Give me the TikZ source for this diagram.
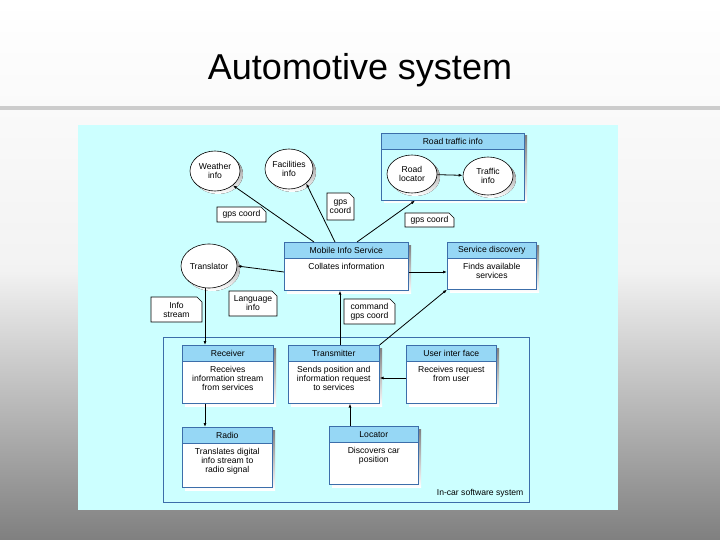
\documentclass[tikz,border=0pt]{standalone}
\usepackage{fontspec}
\setmainfont{Liberation Sans}
\usetikzlibrary{arrows.meta, positioning, shapes.geometric}
\definecolor{panel}{RGB}{204,255,255}
\definecolor{head}{RGB}{150,215,245}
\definecolor{shade}{RGB}{70,130,190}
\definecolor{frame}{RGB}{60,110,170}
\newcommand{\compbox}[7]{  % #1 = name, #2,#3 = top left, #4,#5 = bottom right, #6 = title, #7 = body
	\fill[shade] (#2+3,#3+3) rectangle (#4+3,#5+3);
	\node[box, minimum width=#4-#2, minimum height=#5-#3, anchor=north west] at (#2,#3) (#1) {};
	\node[head, minimum width=#4-#2, anchor=north west] at (#2,#3) (#1h) {#6};
	\node[below=1pt of #1h, align=center] (#1b) {#7};
}
\newcommand{\note}[5]{  % #1 = name, #2,#3 = top left, #4,#5 = bottom right
	\draw[fill=white] (#2,#3) -- (#4-5,#3) -- (#4,#3+5) -- (#4,#5) -- (#2,#5) -- cycle;
	\coordinate (#1) at ({(#2+#4)/2},{(#3+#5)/2});
}
\tikzset{box/.style = {draw=frame, fill=white, rectangle, inner sep=0pt},
	head/.style = {draw=frame, fill=head, rectangle, minimum height=16pt, inner sep=1pt},
	service/.style = {draw, fill=white, ellipse, inner sep=0pt, align=center},
	arrow/.style = {-{Latex[length=4pt,width=3pt]}, thick},
	label/.style = {align=center, inner sep=0pt}
}
\begin{document}
\begin{tikzpicture}[x=1pt, y=-1pt, font=\fontsize{8.6}{9}\selectfont, line width=0.6pt]
	\useasboundingbox (0,0) rectangle (720,540);
	\shade[top color=white, bottom color=black!50, middle color=white!95!black] (0,0) rectangle (720,540);
	\node[font=\fontsize{36}{38}\selectfont] (title) at (360,70) {Automotive system};
	\fill[black!20] (0,106) rectangle (720,110);
	\fill[panel] (78,125) rectangle (618,510);

	% services
	\fill[shade] (218,174) ellipse (25 and 20);
	\fill[shade] (292,172) ellipse (24 and 20);
	\fill[shade] (212,269) ellipse (28 and 22);
	\node[service, minimum width=50, minimum height=40] (weather) at (215,171) {Weather\\info};
	\node[service, minimum width=48, minimum height=40] (facil) at (289,169) {Facilities\\info};
	\fill[shade] (384,136) rectangle (527,203);
	\node[box, fill=panel, minimum width=143, minimum height=67, anchor=north west] (road) at (381,133) {};
	\node[head, minimum width=143, minimum height=16, anchor=north west] (roadh) at (381,133) {Road traffic info};
	\fill[shade] (415,177) ellipse (25 and 19);
	\fill[shade] (491,179) ellipse (25 and 19);
	\node[service, minimum width=50, minimum height=38] (locator) at (412,174) {Road\\locator};
	\node[service, minimum width=50, minimum height=38] (traffic) at (488,176) {Traffic\\info};
	\node[service, minimum width=56, minimum height=44] (transl) at (209,266) {Translator};
	\compbox{mis}{284}{242}{408}{290}{Mobile Info Service}{Collates information}
	\compbox{disc}{447}{242}{536}{289}{Service discovery}{Finds available\\services}

	% notes
	\note{n1}{217}{207}{266}{222} \node[label] at (n1) {gps coord};
	\note{n2}{327}{193}{354}{220} \node[label] at (n2) {gps\\coord};
	\note{n3}{405}{213}{454}{227} \node[label] at (n3) {gps coord};
	\note{n4}{151}{297}{202}{322} \node[label] at (n4) {Info\\stream};
	\note{n5}{229}{291}{277}{316} \node[label] at (n5) {Language\\info};
	\note{n6}{344}{299}{395}{324} \node[label] at (n6) {command\\gps coord};

	% in-car system
	\draw[frame] (163,337) rectangle (529,502);
	\node[anchor=south east] (incar) at (527,501) {In-car software system};
	\compbox{recv}{182}{345}{273}{403}{Receiver}{Receives\\information stream\\from services}
	\compbox{trans}{288}{345}{379}{403}{Transmitter}{Sends position and\\information request\\to services}
	\compbox{user}{406}{345}{496}{403}{User inter face}{Receives request\\from user}
	\compbox{radio}{182}{427}{272}{487}{Radio}{Translates digital\\info stream to\\radio signal}
	\compbox{loc}{329}{426}{418}{484}{Locator}{Discovers car\\position}

	% Connections
	\draw[arrow] (locator) -- (traffic);
	\draw[arrow] ([xshift=30]mis.north west) -- (weather.south east);
	\draw[arrow] ([xshift=51]mis.north west) -- (facil.south east);
	\draw[arrow] ([xshift=73]mis.north west) -- ([xshift=34]road.south west);
	\draw[arrow] ([yshift=-30]mis.north west) -- (transl.east);
	\draw[arrow] ([yshift=-30]mis.north east) -- ([yshift=-30]disc.north west);
	\draw[arrow] ([xshift=52]trans.north west) -- ([xshift=56]mis.south west);
	\draw[arrow] (trans.north east) -- (disc.south west);
	\draw[arrow] ([xshift=-4]transl.south) -- ([xshift=23]recv.north west);
	\draw[arrow] ([yshift=-33]user.north west) -- ([yshift=-33]trans.north east);
	\draw[arrow] ([xshift=23]recv.south west) -- ([xshift=23]radio.north west);
	\draw[arrow] ([xshift=21]loc.north west) -- ([xshift=62]trans.south west);
\end{tikzpicture}
\end{document}
